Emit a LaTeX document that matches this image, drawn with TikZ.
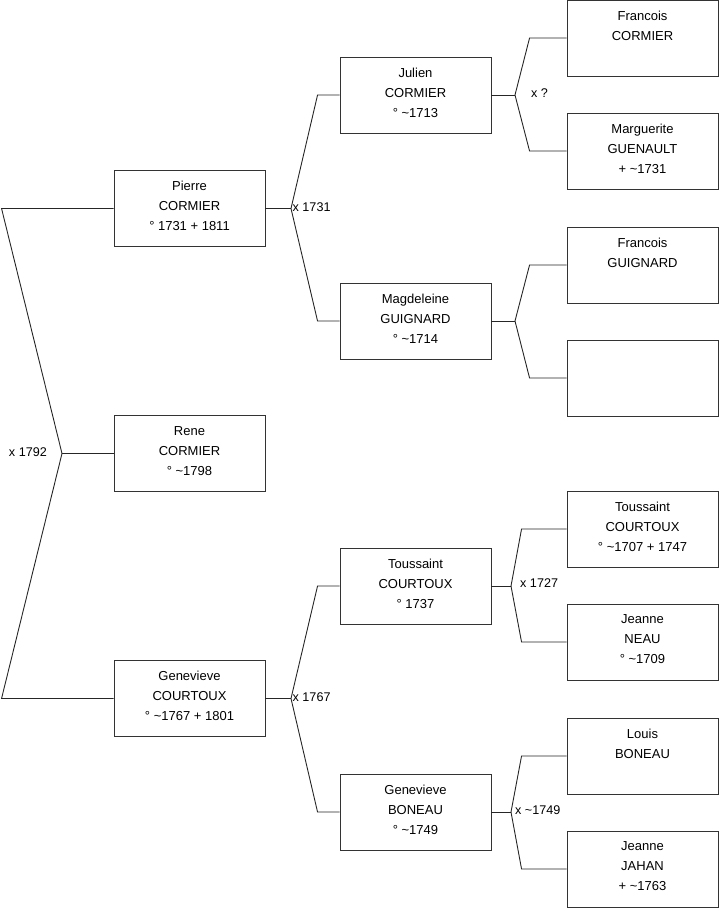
\documentclass[tikz,border=0pt]{standalone}
\usepackage{fontspec}
\setmainfont{Liberation Sans}
\tikzset{
  person/.style={draw=black!80, line width=0.9pt, minimum width=151pt, minimum height=76pt, inner sep=0pt, fill=white},
  ptext/.style={align=center, inner sep=0pt, font=\fontsize{13}{20}\selectfont, anchor=north},
  conn/.style={draw=black!85, line width=0.9pt},
  mlabel/.style={inner sep=0pt, font=\fontsize{12.6}{14}\selectfont}
}
\newcommand{\person}[4]{%
  \node[person] (#1) at (#2) {};
  \node[ptext] (#1t) at ([yshift=-11pt]#1.north) {#3\\#4};
}
\begin{document}
\begin{tikzpicture}[x=1pt,y=-1pt]
\useasboundingbox (0,0) rectangle (719,908);
% column 1
\person{p}{189.5,208.5}{Pierre}{CORMIER\\° 1731 + 1811}
\person{r}{189.5,453.5}{Rene}{CORMIER\\° \textasciitilde1798}
\person{g}{189.5,698.5}{Genevieve}{COURTOUX\\° \textasciitilde1767 + 1801}
% column 2
\person{ju}{415.5,95}{Julien}{CORMIER\\° \textasciitilde1713}
\person{ma}{415.5,321}{Magdeleine}{GUIGNARD\\° \textasciitilde1714}
\person{to}{415.5,586}{Toussaint}{COURTOUX\\° 1737}
\person{gb}{415.5,812}{Genevieve}{BONEAU\\° \textasciitilde1749}
% column 3
\person{fc}{642.5,38}{Francois}{CORMIER\\\mbox{}}
\person{mg}{642.5,151}{Marguerite}{GUENAULT\\+ \textasciitilde1731}
\person{fg}{642.5,265}{Francois}{GUIGNARD\\\mbox{}}
\node[person] (em) at (642.5,378) {};
\person{ts}{642.5,529}{Toussaint}{COURTOUX\\° \textasciitilde1707 + 1747}
\person{jn}{642.5,642}{Jeanne}{NEAU\\° \textasciitilde1709}
\person{lb}{642.5,756}{Louis}{BONEAU\\\mbox{}}
\person{jj}{642.5,869}{Jeanne}{JAHAN\\+ \textasciitilde1763}
% junctions
\coordinate (j0) at (62,453.5);
\coordinate (jp) at (291,208.5);
\coordinate (jg) at (291,698.5);
\coordinate (jju) at (515,95);
\coordinate (jma) at (515,321);
\coordinate (jto) at (511,586);
\coordinate (jgb) at (511,812);
% left
\draw[conn] (p.west) -- ([xshift=-112pt]p.west) -- (j0) -- ([xshift=-112pt]g.west) -- (g.west);
\draw[conn] (j0) -- (r.west);
% column 1 to 2
\draw[conn] (p.east) -- (jp);
\draw[conn] (jp) -- ([xshift=-22pt]ju.west) -- (ju.west);
\draw[conn] (jp) -- ([xshift=-22pt]ma.west) -- (ma.west);
\draw[conn] (g.east) -- (jg);
\draw[conn] (jg) -- ([xshift=-22pt]to.west) -- (to.west);
\draw[conn] (jg) -- ([xshift=-22pt]gb.west) -- (gb.west);
% column 2 to 3
\draw[conn] (ju.east) -- (jju);
\draw[conn] (jju) -- ([xshift=-37pt]fc.west) -- (fc.west);
\draw[conn] (jju) -- ([xshift=-37pt]mg.west) -- (mg.west);
\draw[conn] (ma.east) -- (jma);
\draw[conn] (jma) -- ([xshift=-37pt]fg.west) -- (fg.west);
\draw[conn] (jma) -- ([xshift=-37pt]em.west) -- (em.west);
\draw[conn] (to.east) -- (jto);
\draw[conn] (jto) -- ([xshift=-45pt]ts.west) -- (ts.west);
\draw[conn] (jto) -- ([xshift=-45pt]jn.west) -- (jn.west);
\draw[conn] (gb.east) -- (jgb);
\draw[conn] (jgb) -- ([xshift=-45pt]lb.west) -- (lb.west);
\draw[conn] (jgb) -- ([xshift=-45pt]jj.west) -- (jj.west);
% labels
\node[mlabel, anchor=east] (l0) at ([xshift=-15pt,yshift=1pt]j0) {x 1792};
\node[mlabel, anchor=west] (l1) at ([xshift=1.5pt,yshift=1pt]jp) {x 1731};
\node[mlabel, anchor=west] (l2) at ([xshift=1.5pt,yshift=1pt]jg) {x 1767};
\node[mlabel, anchor=west] (l3) at ([xshift=16pt,yshift=2pt]jju) {x ?};
\node[mlabel, anchor=west] (l4) at ([xshift=9pt,yshift=3pt]jto) {x 1727};
\node[mlabel, anchor=west] (l5) at ([xshift=4pt,yshift=2pt]jgb) {x \textasciitilde1749};
\end{tikzpicture}
\end{document}
